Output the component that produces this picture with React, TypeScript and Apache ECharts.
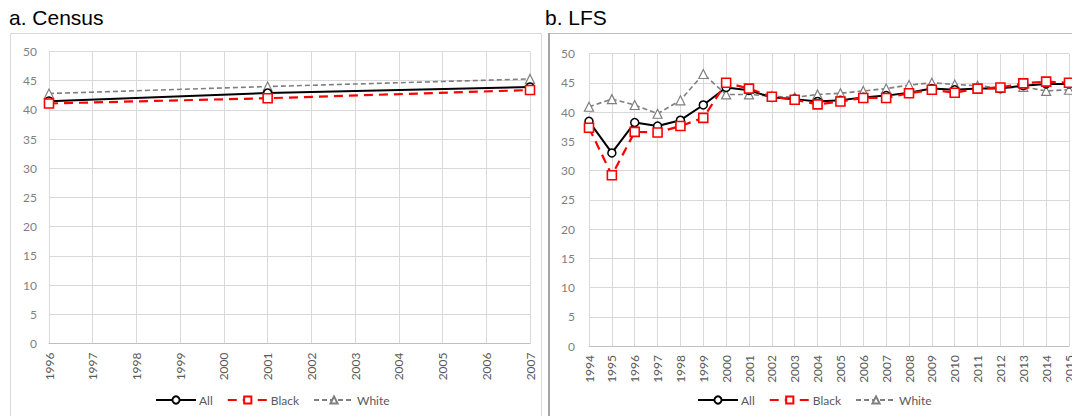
import React, { useEffect, useRef } from "react";
import * as echarts from "echarts";

// Panel a: census years (observations in 1996, 2001 and 2007)
const censusYears = ["1996", "1997", "1998", "1999", "2000", "2001", "2002", "2003", "2004", "2005", "2006", "2007"];
const censusAll = [41.5, null, null, null, null, 42.9, null, null, null, null, null, 43.9];
const censusBlack = [41.1, null, null, null, null, 42.0, null, null, null, null, null, 43.4];
const censusWhite = [42.8, null, null, null, null, 44.0, null, null, null, null, null, 45.3];

// Panel b: labour force survey years
const lfsYears = [
  "1994", "1995", "1996", "1997", "1998", "1999", "2000", "2001", "2002", "2003", "2004",
  "2005", "2006", "2007", "2008", "2009", "2010", "2011", "2012", "2013", "2014", "2015",
];
const lfsAll = [38.4, 33.0, 38.2, 37.6, 38.6, 41.2, 44.2, 43.7, 42.5, 42.2, 41.8, 42.0, 42.5, 42.8, 43.3, 44.0, 43.8, 44.0, 44.0, 44.5, 44.8, 44.8];
const lfsBlack = [37.3, 29.2, 36.6, 36.5, 37.6, 39.0, 45.0, 44.0, 42.6, 42.1, 41.3, 41.8, 42.4, 42.4, 43.2, 43.8, 43.3, 44.0, 44.2, 44.9, 45.2, 45.0];
const lfsWhite = [40.9, 42.2, 41.2, 39.7, 42.0, 46.5, 43.0, 43.0, 42.7, 42.5, 43.0, 43.2, 43.6, 44.0, 44.6, 45.0, 44.7, 44.5, 44.1, 44.3, 43.6, 43.8];

const seriesNames = ["All", "Black", "White"];
const panelTitles = ["a. Census", "b. LFS"];

const FONT = "Lato, 'Open Sans', sans-serif";

function lineSeries(name: string, data: (number | null)[], axisIndex: number) {
  const base: any = {
    name,
    type: "line",
    data,
    xAxisIndex: axisIndex,
    yAxisIndex: axisIndex,
    connectNulls: true,
    showAllSymbol: true,
    emphasis: { disabled: true },
  };
  if (name === "All") {
    return {
      ...base,
      z: 3,
      symbol: "circle",
      symbolSize: 8,
      lineStyle: { color: "#000000", width: 2, type: "solid" },
      itemStyle: { color: "#ffffff", borderColor: "#000000", borderWidth: 1.5 },
    };
  }
  if (name === "Black") {
    return {
      ...base,
      z: 4,
      symbol: "rect",
      symbolSize: 9,
      lineStyle: { color: "#ff0000", width: 2.2, type: [9, 6] },
      itemStyle: { color: "#ffffff", borderColor: "#ff0000", borderWidth: 1.6 },
    };
  }
  return {
    ...base,
    z: 2,
    symbol: "triangle",
    symbolSize: 9,
    lineStyle: { color: "#7f7f7f", width: 1.6, type: [5, 3] },
    itemStyle: { color: "#ffffff", borderColor: "#7f7f7f", borderWidth: 1.2 },
  };
}

function xAxis(data: string[], gridIndex: number) {
  return {
    type: "category",
    gridIndex,
    data,
    boundaryGap: false,
    axisLine: { lineStyle: { color: "#bfbfbf", width: 1 } },
    axisTick: { show: false },
    splitLine: { show: true, lineStyle: { color: "#d9d9d9", width: 1 } },
    axisLabel: {
      rotate: 90,
      margin: 9,
      interval: 0,
      color: "#595959",
      fontSize: 12,
      fontFamily: FONT,
    },
  };
}

function yAxis(gridIndex: number, margin: number) {
  return {
    type: "value",
    gridIndex,
    min: 0,
    max: 50,
    interval: 5,
    axisLine: { show: false },
    axisTick: { show: false },
    splitLine: { lineStyle: { color: "#d9d9d9", width: 1 } },
    axisLabel: { margin, color: "#7f7f7f", fontSize: 12, fontFamily: FONT },
  };
}

function legend(left: number) {
  return {
    left,
    top: 389,
    data: seriesNames,
    itemWidth: 40,
    itemHeight: 9,
    itemGap: 14,
    selectedMode: false,
    textStyle: { color: "#595959", fontSize: 12, fontFamily: FONT, padding: [0, 0, 0, -2] },
  };
}

export default function App() {
  const ref = useRef<HTMLDivElement>(null);

  useEffect(() => {
    if (!ref.current) return;
    const chart = echarts.init(ref.current, undefined, { renderer: "svg" });
    chart.setOption({
      animation: false,
      backgroundColor: "#ffffff",
      grid: [
        { left: 49, top: 51.5, width: 481, height: 292 },
        { left: 589, top: 53.5, width: 480, height: 292.5 },
      ],
      xAxis: [xAxis(censusYears, 0), xAxis(lfsYears, 1)],
      yAxis: [yAxis(0, 12), yAxis(1, 14)],
      legend: [legend(150), legend(692)],
      graphic: [
        {
          type: "rect",
          shape: { x: 10.5, y: 33.5, width: 531, height: 400 },
          style: { fill: "none", stroke: "#d9d9d9", lineWidth: 1 },
          silent: true,
        },
        {
          type: "line",
          shape: { x1: 549, y1: 33.5, x2: 1100, y2: 33.5 },
          style: { stroke: "#bfbfbf", lineWidth: 1 },
          silent: true,
        },
        {
          type: "line",
          shape: { x1: 549, y1: 33, x2: 549, y2: 420 },
          style: { stroke: "#a6a6a6", lineWidth: 2 },
          silent: true,
        },
        {
          type: "text",
          left: 9,
          top: 7,
          style: { text: panelTitles[0], fill: "#000000", fontSize: 21, fontFamily: "'Liberation Sans', Arial, sans-serif" },
        },
        {
          type: "text",
          left: 545,
          top: 7,
          style: { text: panelTitles[1], fill: "#000000", fontSize: 21, fontFamily: "'Liberation Sans', Arial, sans-serif" },
        },
      ],
      series: [
        lineSeries("White", censusWhite, 0),
        lineSeries("All", censusAll, 0),
        lineSeries("Black", censusBlack, 0),
        lineSeries("White", lfsWhite, 1),
        lineSeries("All", lfsAll, 1),
        lineSeries("Black", lfsBlack, 1),
      ],
    });
    return () => chart.dispose();
  }, []);

  return (
    <div style={{ position: "fixed", left: 0, top: 0, width: 1072, height: 416, overflow: "hidden", background: "#fff" }}>
      <div ref={ref} style={{ width: 1100, height: 416 }} />
    </div>
  );
}
